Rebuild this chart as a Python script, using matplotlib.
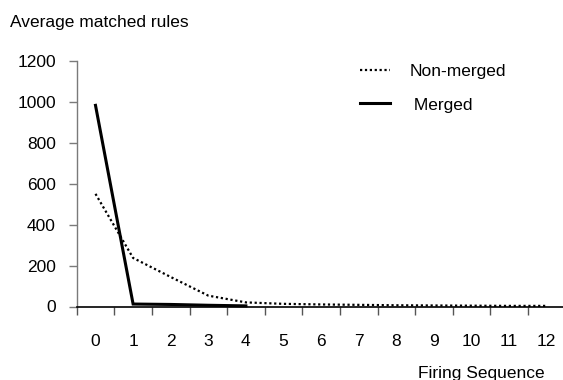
import matplotlib
matplotlib.use("Agg")
import matplotlib.pyplot as plt
import numpy as np

plt.rcParams['font.family'] = ['Liberation Sans', 'DejaVu Sans']

categories = list(range(13))
non_merged = [550, 237, 144, 53, 20, 13, 10, 8, 6, 5, 4, 3, 3]
merged = [982, 12, 10, 6, 3]
yticks = [0, 200, 400, 600, 800, 1000, 1200]

W, H = 563, 380
fig = plt.figure(figsize=(W / 100, H / 100), dpi=100)
left, right = 76.7, 76.7 + 13 * 37.6
top, bottom = 60.7, 306.5
ax = fig.add_axes([left / W, 1 - bottom / H, (right - left) / W, (bottom - top) / H])

ax.plot(categories, non_merged, color='black', lw=1.6, linestyle=(0, (1, 1.2)),
        label='Non-merged', clip_on=False)
ax.plot(categories[:len(merged)], merged, color='black', lw=2.2,
        label=' Merged', clip_on=False, solid_joinstyle='miter')

ax.set_xlim(-0.5, 12.5)
ax.set_ylim(0, 1200)
ax.set_yticks(yticks)
ax.set_yticklabels([str(v) for v in yticks])
ax.set_xticks(categories)
ax.set_xticklabels([str(c) for c in categories])
ax.set_xticks(np.arange(-0.5, 13, 1.0), minor=True)

for s in ['top', 'right']:
    ax.spines[s].set_visible(False)
ax.spines['left'].set_color('#7a7a7a')
ax.spines['left'].set_linewidth(1.0)
ax.spines['bottom'].set_color('black')
ax.spines['bottom'].set_linewidth(1.2)

ax.tick_params(axis='y', length=6, width=1, color='#7a7a7a', pad=9, labelsize=12.5)
ax.tick_params(axis='x', which='major', length=0, pad=20, labelsize=12.5)
ax.tick_params(axis='x', which='minor', length=6, width=1, color='#555555')

fig.text(10 / W, 1 - 22 / H, 'Average matched rules', fontsize=12.5, va='center', ha='left')
fig.text(418 / W, 1 - 366 / H, 'Firing Sequence', fontsize=12.5, va='top', ha='left')

ax.legend(loc='upper left', bbox_to_anchor=((360 - left) / (right - left), 1 - (64 - top) / (bottom - top)),
          frameon=False, fontsize=12.5, handlelength=1.75, handletextpad=1.1,
          labelspacing=1.05, borderaxespad=0, borderpad=0)

fig.savefig('out.png', dpi=100)
